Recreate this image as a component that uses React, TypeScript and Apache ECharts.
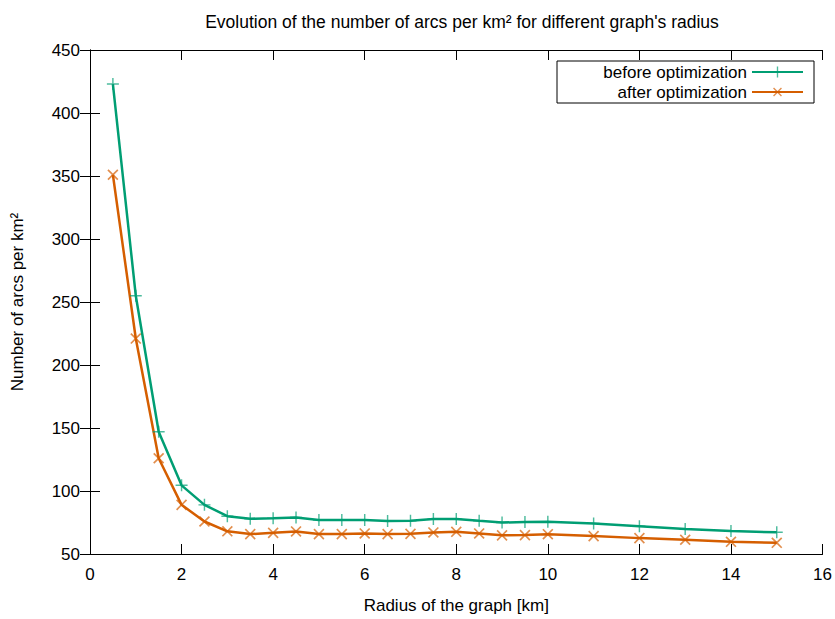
import React, { useEffect, useRef } from "react";
import * as echarts from "echarts";

const radius = [0.5, 1, 1.5, 2, 2.5, 3, 3.5, 4, 4.5, 5, 5.5, 6, 6.5, 7, 7.5, 8, 8.5, 9, 9.5, 10, 11, 12, 13, 14, 15];
const beforeOpt = [423, 255, 147, 104.5, 89, 80, 78, 78.3, 79, 77, 77, 77, 76.2, 76.4, 77.7, 77.7, 76.3, 75, 75.3, 75.6, 74.3, 72.1, 69.8, 68.2, 67.2];
const afterOpt = [351, 221, 126, 89, 75.8, 68, 65.8, 66.8, 67.9, 65.8, 65.8, 66.3, 65.8, 66, 67.1, 67.6, 66.3, 64.8, 65, 65.7, 64.2, 62.6, 61.3, 59.7, 58.9];

const xTicks = { min: 0, max: 16, interval: 2 };
const yTicks = { min: 50, max: 450, interval: 50 };

const PLUS = "path://M4.4,0h1.2v4.4h4.4v1.2h-4.4v4.4h-1.2v-4.4h-4.4v-1.2h4.4z";
const FONT = "Liberation Sans, Arial, sans-serif";
const FS = 17;

export default function App() {
  const ref = useRef<HTMLDivElement>(null);
  useEffect(() => {
    const chart = echarts.init(ref.current!, null, { renderer: "svg" });
    const axisCommon = {
      axisLine: { show: true, lineStyle: { color: "#000", width: 1 } },
      axisTick: { show: true, inside: true, length: 10, lineStyle: { color: "#000" } },
      splitLine: { show: false },
    };
    chart.setOption({
      animation: false,
      backgroundColor: "#fff",
      title: {
        text: "Evolution of the number of arcs per km² for different graph's radius",
        left: 457,
        textAlign: "center",
        top: 8,
        textStyle: { fontFamily: FONT, fontSize: 17.5, fontWeight: "normal", color: "#000" },
      },
      grid: { left: 90, right: 12, top: 50, bottom: 63, containLabel: false },
      legend: {
        right: 21,
        top: 61,
        orient: "vertical",
        align: "right",
        itemWidth: 51,
        itemHeight: 14,
        itemGap: 0,
        padding: [1, 10, 1, 13],
        borderColor: "#000",
        borderWidth: 1,
        textStyle: { fontFamily: FONT, fontSize: FS, color: "#000", width: 177, align: "right", lineHeight: 20 },
        data: [
          { name: "before optimization" },
          { name: "after optimization" },
        ],
      },
      xAxis: [
        {
          type: "value",
          ...xTicks,
          ...axisCommon,
          name: "Radius of the graph [km]",
          nameLocation: "middle",
          nameGap: 43,
          nameTextStyle: { fontFamily: FONT, fontSize: FS, color: "#000" },
          axisLabel: { fontFamily: FONT, fontSize: FS, color: "#000", margin: 12 },
        },
        {
          type: "value",
          position: "top",
          ...xTicks,
          ...axisCommon,
          axisLabel: { show: false },
        },
      ],
      yAxis: [
        {
          type: "value",
          ...yTicks,
          ...axisCommon,
          name: "Number of arcs per km²",
          nameLocation: "middle",
          nameGap: 64,
          nameTextStyle: { fontFamily: FONT, fontSize: FS, color: "#000" },
          axisLabel: { fontFamily: FONT, fontSize: FS, color: "#000", margin: 10 },
        },
        {
          type: "value",
          position: "right",
          ...yTicks,
          ...axisCommon,
          axisLabel: { show: false },
        },
      ],
      series: [
        {
          name: "before optimization",
          type: "line",
          data: radius.map((x, i) => [x, beforeOpt[i]]),
          symbol: PLUS,
          symbolSize: 12,
          showAllSymbol: true,
          lineStyle: { color: "#009e73", width: 2.5 },
          itemStyle: { color: "rgba(0,158,115,0.7)" },
        },
        {
          name: "after optimization",
          type: "line",
          data: radius.map((x, i) => [x, afterOpt[i]]),
          symbol: PLUS,
          symbolRotate: 45,
          symbolSize: 14,
          showAllSymbol: true,
          lineStyle: { color: "#d55e00", width: 2.5 },
          itemStyle: { color: "rgba(213,94,0,0.7)" },
        },
      ],
    });
    return () => chart.dispose();
  }, []);
  return <div ref={ref} style={{ width: 835, height: 619, position: "absolute", left: 0, top: 0 }} />;
}
